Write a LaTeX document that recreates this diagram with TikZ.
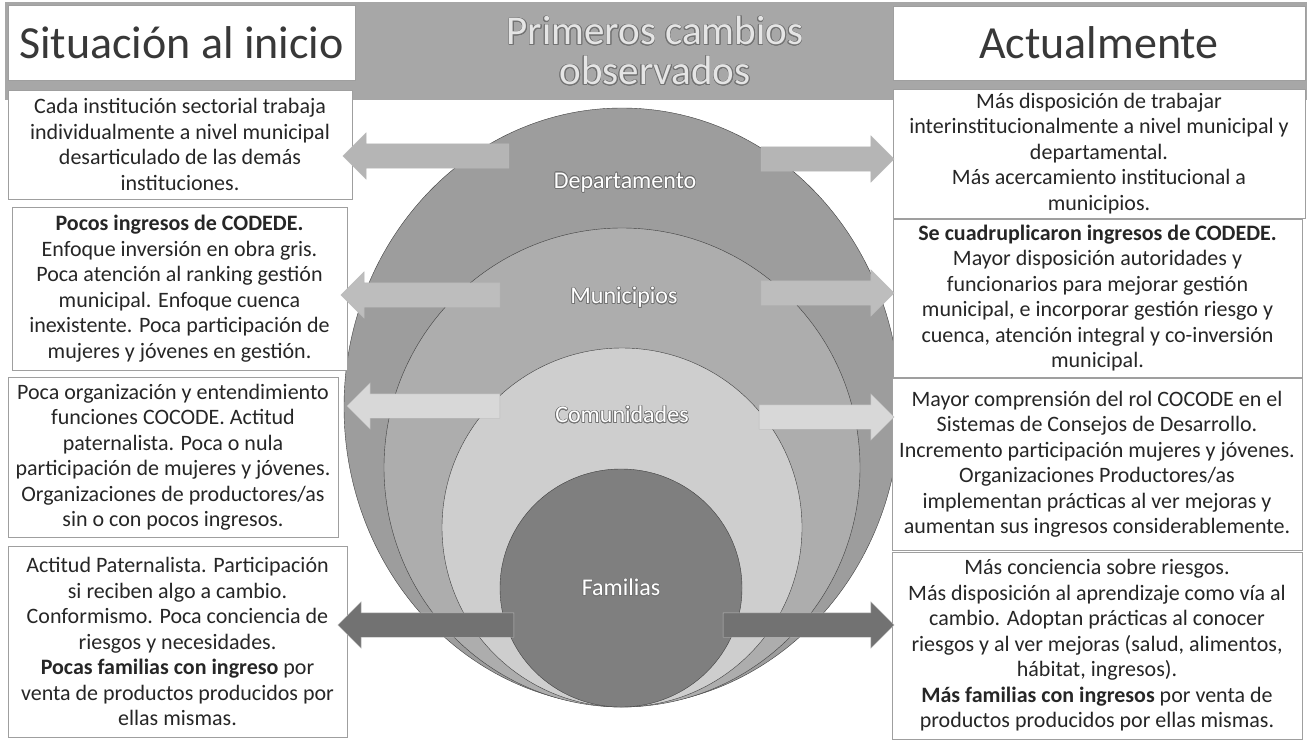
\documentclass[tikz,border=0pt]{standalone}
\usepackage{fontspec}
\setmainfont{Carlito}
\usepackage{contour}
\contourlength{0.7pt}
\usetikzlibrary{shapes.geometric,shapes.arrows,positioning}
\definecolor{banda}{HTML}{A7A7A7}
\definecolor{depto}{HTML}{9D9D9D}
\definecolor{muni}{HTML}{ADADAD}
\definecolor{comu}{HTML}{CECECE}
\definecolor{fami}{HTML}{7F7F7F}
\definecolor{fdepto}{HTML}{B5B5B5}
\definecolor{fmuni}{HTML}{BDBDBD}
\definecolor{fcomu}{HTML}{D8D8D8}
\definecolor{ffami}{HTML}{727272}
\newcommand{\borde}[1]{\contour{black!55}{#1}}

\begin{document}
\begin{tikzpicture}[x=1pt,y=-1pt]
                        \tikzstyle{caja}=[draw=gray!75, fill=white, align=center, inner sep=0pt, text=black!85, font=\fontsize{22}{25.5}\selectfont]
                        \tikzstyle{titulo}=[draw=gray!75, fill=white, inner sep=0pt, text=black!78, font=\fontsize{46}{50}\selectfont]
                        \tikzstyle{nivel}=[ellipse, draw=black!75, inner sep=0pt]
                        \tikzstyle{etiqueta}=[text=white, font=\fontsize{24}{28}\selectfont]
                        \tikzstyle{flecha}=[single arrow, draw=gray!55, inner sep=12pt, minimum width=46pt, single arrow head extend=11pt]
                        \useasboundingbox (0,0) rectangle (1312,740);
                        \fill[white] (0,0) rectangle (1312,740);
                        \node[fill=banda, minimum width=1302, minimum height=98, inner sep=0pt] (banda) at (656,51) {};
                        \node[text=white!90!black, align=center, font=\fontsize{41}{40}\selectfont] (cambios) at (655,51) {\borde{Primeros cambios}\\\borde{observados}};
                        \node[titulo, minimum width=347, minimum height=75] (inicio) at (181.5,42.5) {Situación al inicio};
                        \node[titulo, minimum width=412, minimum height=74] (actual) at (1099,43) {Actualmente};
                        \node[nivel, fill=depto, minimum width=556, minimum height=598] (depto) at (622,407) {};
                        \node[nivel, fill=muni, minimum width=476, minimum height=479] (muni) at (622,467.5) {};
                        \node[nivel, fill=comu, minimum width=360, minimum height=359] (comu) at (622,527.5) {};
                        \node[nivel, fill=fami, minimum width=242, minimum height=238] (fami) at (621,588) {};
                        \node[etiqueta] (ldepto) at (625,183) {\borde{Departamento}};
                        \node[etiqueta] (lmuni) at (624,298) {\borde{Municipios}};
                        \node[etiqueta] (lcomu) at (622,415) {\borde{Comunidades}};
                        \node[etiqueta] (lfami) at (621,588) {\borde{Familias}};
                        \node[caja, minimum width=344, minimum height=109] (antes1) at (180,144.5) {Cada institución sectorial trabaja\\individualmente a nivel municipal\\desarticulado de las demás\\instituciones.};
                        \node[caja, minimum width=335, minimum height=163] (antes2) at (179.5,288.5) {\textbf{Pocos ingresos de CODEDE.}\\Enfoque inversión en obra gris.\\Poca atención al ranking gestión\\municipal. Enfoque cuenca\\inexistente. Poca participación de\\mujeres y jóvenes en gestión.};
                        \node[caja, minimum width=330, minimum height=160] (antes3) at (173,457) {Poca organización y entendimiento\\funciones COCODE. Actitud\\paternalista. Poca o nula\\participación de mujeres y jóvenes.\\Organizaciones de productores/as\\sin o con pocos ingresos.};
                        \node[caja, minimum width=339, minimum height=191] (antes4) at (177.5,641.5) {Actitud Paternalista. Participación\\si reciben algo a cambio.\\Conformismo. Poca conciencia de\\riesgos y necesidades.\\\textbf{Pocas familias con ingreso} por\\venta de productos producidos por\\ellas mismas.};
                        \node[caja, minimum width=412, minimum height=129] (ahora1) at (1099,153.5) {Más disposición de trabajar\\interinstitucionalmente a nivel municipal y\\departamental.\\Más acercamiento institucional a\\municipios.};
                        \node[caja, minimum width=409, minimum height=158] (ahora2) at (1097.5,298) {\textbf{Se cuadruplicaron ingresos de CODEDE.}\\Mayor disposición autoridades y\\funcionarios para mejorar gestión\\municipal, e incorporar gestión riesgo y\\cuenca, atención integral y co-inversión\\municipal.};
                        \node[caja, minimum width=410, minimum height=172] (ahora3) at (1097,464) {Mayor comprensión del rol COCODE en el\\Sistemas de Consejos de Desarrollo.\\Incremento participación mujeres y jóvenes.\\Organizaciones Productores/as\\implementan prácticas al ver mejoras y\\aumentan sus ingresos considerablemente.};
                        \node[caja, minimum width=410, minimum height=187] (ahora4) at (1097,645.5) {Más conciencia sobre riesgos.\\Más disposición al aprendizaje como vía al\\cambio. Adoptan prácticas al conocer\\riesgos y al ver mejoras (salud, alimentos,\\hábitat, ingresos).\\\textbf{Más familias con ingresos} por venta de\\productos producidos por ellas mismas.};
                        \node[flecha, fill=fdepto, minimum height=166, rotate=180] (izqdepto) at (432,156) {};
                        \node[flecha, fill=fdepto, minimum height=133] (derdepto) at (821.5,159) {};
                        \node[flecha, fill=fmuni, minimum height=159, rotate=180] (izqmuni) at (426.5,295) {};
                        \node[flecha, fill=fmuni, minimum height=133] (dermuni) at (821.5,293) {};
                        \node[flecha, fill=fcomu, minimum height=153, rotate=180] (izqcomu) at (429.5,406) {};
                        \node[flecha, fill=fcomu, minimum height=135] (dercomu) at (820.5,417) {};
                        \node[flecha, fill=ffami, minimum height=176, rotate=180] (izqfami) at (432,625) {};
                        \node[flecha, fill=ffami, minimum height=171] (derfami) at (802.5,625) {};
\end{tikzpicture}
\end{document}
